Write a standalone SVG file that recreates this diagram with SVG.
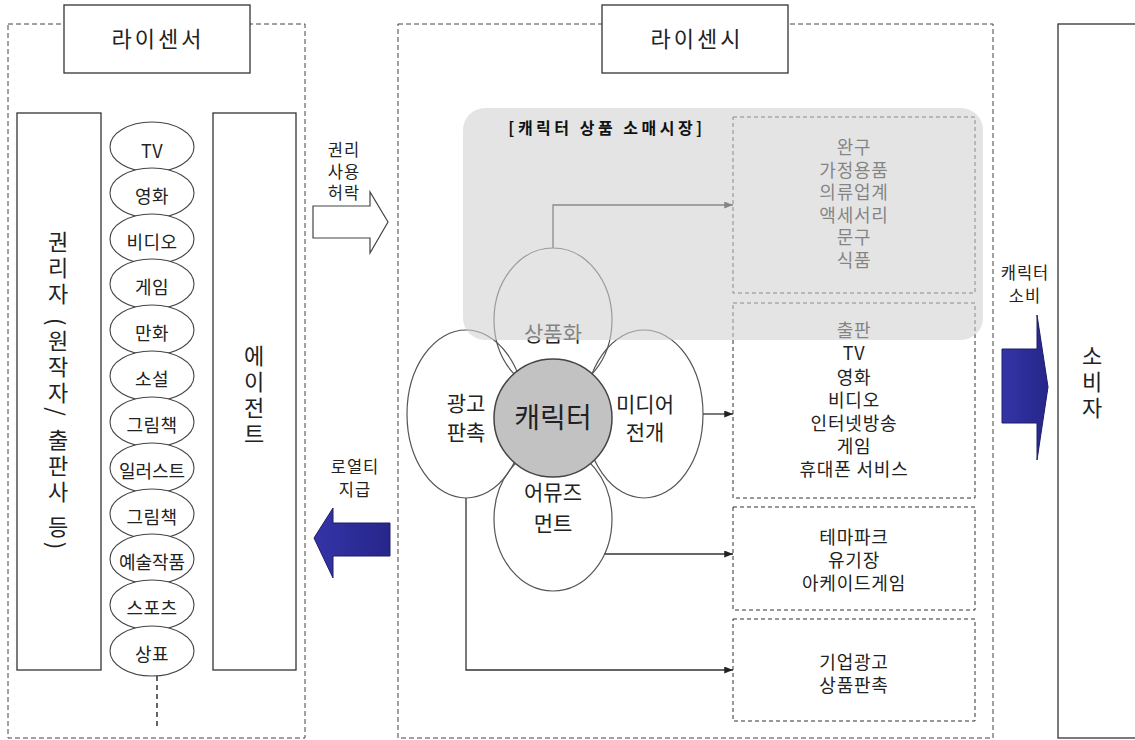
<svg xmlns="http://www.w3.org/2000/svg" width="1135" height="740" viewBox="0 0 1135 740">
<defs>
<style>
text{font-family:"Noto Sans CJK KR","Noto Sans CJK SC",sans-serif;fill:#222;text-anchor:middle}
.dash{fill:none;stroke:#444;stroke-width:1;stroke-dasharray:5 3}
.box{fill:#fff;stroke:#333;stroke-width:1.3}
.ibox{fill:none;stroke:#333;stroke-width:1;stroke-dasharray:4 3}
.pill{fill:#fff;stroke:#444;stroke-width:1.1}
.pt{font-size:18px;letter-spacing:0.5px}
.pet{fill:none;stroke:#555;stroke-width:1.2}
.lst{font-size:18px;letter-spacing:0.8px}
.ttl{font-size:22px;letter-spacing:3px}
.vt{font-size:22px;writing-mode:vertical-rl;letter-spacing:4px;text-anchor:start}
.sm{font-size:16.5px;letter-spacing:1px}
.con{fill:none;stroke:#333;stroke-width:1.3}
.blue{fill:url(#bg);stroke:#1e1e66;stroke-width:1}
</style>
<marker id="ah" viewBox="0 0 10 8" refX="10" refY="4" markerWidth="9" markerHeight="7" markerUnits="userSpaceOnUse" orient="auto">
<path d="M0,0 L10,4 L0,8 z" fill="#222"/>
</marker>
<linearGradient id="bg" x1="0" y1="0" x2="1" y2="0">
<stop offset="0" stop-color="#3434a8"/>
<stop offset="1" stop-color="#26268a"/>
</linearGradient>
</defs>
<rect width="1135" height="740" fill="#fff"/>

<g id="licensor">
<rect class="dash" x="8" y="24" width="297" height="714"/>
<rect class="box" x="64" y="5" width="186" height="68"/>
<text class="ttl" x="158" y="47">라이센서</text>
</g>

<g id="rightholder">
<rect class="box" x="17" y="113" width="84" height="557"/>
<text class="vt" x="58" y="231">권리자 (원작자/ 출판사 등)</text>
</g>

<g id="agent">
<rect class="box" x="213" y="113" width="83" height="557"/>
<text class="vt" x="254" y="345">에이전트</text>
</g>

<g id="sources">
<ellipse class="pill" cx="152" cy="147" rx="42" ry="25"/><text class="pt" x="152" y="158">TV</text>
<ellipse class="pill" cx="152" cy="193" rx="42" ry="25"/><text class="pt" x="152" y="203">영화</text>
<ellipse class="pill" cx="152" cy="239" rx="42" ry="25"/><text class="pt" x="152" y="249">비디오</text>
<ellipse class="pill" cx="152" cy="284" rx="42" ry="25"/><text class="pt" x="152" y="294">게임</text>
<ellipse class="pill" cx="152" cy="330" rx="42" ry="25"/><text class="pt" x="152" y="340">만화</text>
<ellipse class="pill" cx="152" cy="376" rx="42" ry="25"/><text class="pt" x="152" y="386">소설</text>
<ellipse class="pill" cx="152" cy="422" rx="42" ry="25"/><text class="pt" x="152" y="432">그림책</text>
<ellipse class="pill" cx="152" cy="468" rx="42" ry="25"/><text class="pt" x="152" y="478" style="letter-spacing:0">일러스트</text>
<ellipse class="pill" cx="152" cy="514" rx="42" ry="25"/><text class="pt" x="152" y="524">그림책</text>
<ellipse class="pill" cx="152" cy="559" rx="42" ry="25"/><text class="pt" x="152" y="569" style="letter-spacing:0">예술작품</text>
<ellipse class="pill" cx="152" cy="605" rx="42" ry="25"/><text class="pt" x="152" y="615">스포츠</text>
<ellipse class="pill" cx="152" cy="651" rx="42" ry="25"/><text class="pt" x="152" y="661">상표</text>
<line x1="157" y1="676" x2="157" y2="728" stroke="#333" stroke-width="1.5" stroke-dasharray="5 4"/>
</g>

<g id="arrow-permit">
<path d="M313,206 H370 V192 L388,222 L370,253 V238 H313 Z" fill="#fff" stroke="#444" stroke-width="1.2"/>
<text class="sm" x="344" y="156">권리</text>
<text class="sm" x="344" y="178">사용</text>
<text class="sm" x="344" y="199">허락</text>
</g>

<g id="arrow-royalty">
<path d="M390,523 H333 V508 L314,538 L333,578 V556 H390 Z" class="blue"/>
<text class="sm" x="355" y="473">로열티</text>
<text class="sm" x="355" y="496">지급</text>
</g>

<g id="licensee">
<rect class="dash" x="398" y="24" width="595" height="714"/>
<rect class="box" x="602" y="5" width="186" height="68"/>
<text class="ttl" x="697" y="47">라이센시</text>
</g>

<g id="box-goods">
<rect class="ibox" x="733" y="117" width="242" height="176"/>
<text class="lst" x="854" y="154">완구</text>
<text class="lst" x="854" y="177">가정용품</text>
<text class="lst" x="854" y="199">의류업계</text>
<text class="lst" x="854" y="222">액세서리</text>
<text class="lst" x="854" y="244">문구</text>
<text class="lst" x="854" y="267">식품</text>
</g>

<g id="box-media">
<rect class="ibox" x="733" y="303" width="242" height="195"/>
<text class="lst" x="854" y="337">출판</text>
<text class="lst" x="854" y="360">TV</text>
<text class="lst" x="854" y="384">영화</text>
<text class="lst" x="854" y="407">비디오</text>
<text class="lst" x="854" y="430">인터넷방송</text>
<text class="lst" x="854" y="453">게임</text>
<text class="lst" x="854" y="476">휴대폰 서비스</text>
</g>

<g id="box-amuse">
<rect class="ibox" x="733" y="507" width="242" height="103"/>
<text class="lst" x="854" y="544">테마파크</text>
<text class="lst" x="854" y="567">유기장</text>
<text class="lst" x="854" y="590">아케이드게임</text>
</g>

<g id="box-ad">
<rect class="ibox" x="733" y="619" width="242" height="102"/>
<text class="lst" x="854" y="669">기업광고</text>
<text class="lst" x="854" y="692">상품판촉</text>
</g>

<g id="connectors">
<path class="con" d="M553,248 V205 H733" marker-end="url(#ah)"/>
<path class="con" d="M703,414 H733" marker-end="url(#ah)"/>
<path class="con" d="M604,554 H733" marker-end="url(#ah)"/>
<path class="con" d="M466,498 V670 H733" marker-end="url(#ah)"/>
</g>

<g id="petal-goods">
<ellipse class="pet" cx="553" cy="320" rx="59" ry="72"/>
<text style="font-size:21px" x="553" y="341">상품화</text>
</g>
<g id="petal-ad">
<ellipse class="pet" cx="466" cy="414" rx="59" ry="84"/>
<text style="font-size:21px" x="466" y="411">광고</text>
<text style="font-size:21px" x="466" y="440">판촉</text>
</g>
<g id="petal-media">
<ellipse class="pet" cx="644" cy="414" rx="59" ry="84"/>
<text style="font-size:21px" x="645" y="412">미디어</text>
<text style="font-size:21px" x="645" y="440">전개</text>
</g>
<g id="petal-amuse">
<ellipse class="pet" cx="553" cy="519" rx="59" ry="72"/>
<text style="font-size:21px" x="553" y="500">어뮤즈</text>
<text style="font-size:21px" x="553" y="531">먼트</text>
</g>
<g id="character">
<circle cx="553" cy="418" r="59" fill="#c2c2c2" stroke="#444" stroke-width="1.5"/>
<text style="font-size:28px" x="553" y="428">캐릭터</text>
</g>

<g id="retail-market">
<rect x="463" y="108" width="520" height="232" rx="22" fill="#cfcfcf" opacity="0.57"/>
<text style="font-size:16px;font-weight:bold;letter-spacing:3.5px;fill:#111" x="607" y="134">[캐릭터 상품 소매시장]</text>
</g>

<g id="arrow-consume">
<path d="M1002,349 H1037 V315 L1048,387 L1037,460 V423 H1002 Z" class="blue"/>
<text class="sm" x="1025" y="279">캐릭터</text>
<text class="sm" x="1025" y="302">소비</text>
</g>

<g id="consumer">
<rect x="1058" y="24" width="90" height="714" fill="#fff" stroke="#333" stroke-width="1.3"/>
<text class="vt" x="1092" y="345">소비자</text>
</g>
</svg>
